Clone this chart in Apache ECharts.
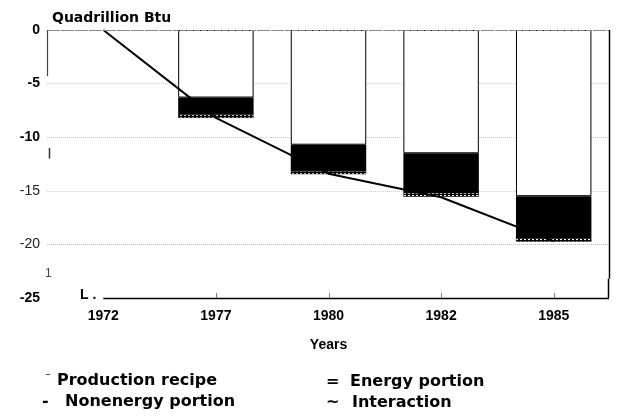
<!DOCTYPE html>
<html><head><meta charset="utf-8">
<script src="https://cdn.jsdelivr.net/npm/echarts@6/dist/echarts.min.js"></script>
<style>html,body{margin:0;padding:0;background:#fff}#c{width:618px;height:419px}</style>
</head><body><div id="c"></div>
<script>
// ---- data ----
const years = ['1972', '1977', '1980', '1982', '1985'];
const productionRecipe = [0, -8.2, -13.4, -15.6, -19.7];
const energyPortion = [0, -6.3, -10.7, -11.5, -15.5];
const nonenergyPortion = [0, -1.6, -2.5, -3.7, -3.9];
const interaction = [0, -0.3, -0.25, -0.35, -0.35];
const yTicks = [0, -5, -10, -15, -20, -25];
const boldTicks = [0, -5, -10, -25];
const yTitle = 'Quadrillion Btu';
const xTitle = 'Years';
const legendMarks = ['\u207B', '=', '-', '~'];
const legendLabels = ['Production recipe', 'Energy portion', 'Nonenergy portion', 'Interaction'];

// hatched pattern for the interaction band
const pc = document.createElement('canvas');
pc.width = 4; pc.height = 2;
const g = pc.getContext('2d');
g.fillStyle = '#000'; g.fillRect(0, 0, 4, 2);
g.fillStyle = '#fff'; g.fillRect(0, 1, 2, 1);

const FONT = 'Liberation Sans, Arial, sans-serif';
const LFONT = 'DejaVu Sans, sans-serif';
const chart = echarts.init(document.getElementById('c'), null, {renderer: 'canvas'});

// zero-height bars get no outline
const barData = arr => arr.map(v => v === 0 ? {value: v, itemStyle: {borderWidth: 0}} : v);

const GL = 47, GR = 8, GT = 30, GB = 121;
chart.setOption({
  animation: false,
  backgroundColor: '#fff',
  title: {
    text: yTitle, left: 47, top: 6,
    textStyle: {fontFamily: LFONT, fontWeight: 'bold', fontSize: 14, color: '#000'}
  },
  grid: {left: GL, right: GR, top: GT, bottom: GB, containLabel: false},
  xAxis: {
    type: 'category', data: years, position: 'bottom',
    axisLine: {show: false, onZero: false},
    axisTick: {show: false},
    axisLabel: {fontFamily: FONT, fontWeight: 'bold', fontSize: 14, color: '#000', margin: 11},
    name: xTitle, nameLocation: 'middle', nameGap: 40,
    nameTextStyle: {fontFamily: FONT, fontWeight: 'bold', fontSize: 14, color: '#000'}
  },
  yAxis: {
    type: 'value', min: yTicks[yTicks.length - 1], max: yTicks[0], interval: 5,
    axisLine: {show: false}, axisTick: {show: false},
    splitLine: {show: true, lineStyle: {type: 'dotted', width: 1,
      color: ['rgba(0,0,0,0)', '#bbb', '#ccc', '#ccc', '#ccc', '#999']}},
    axisLabel: {
      margin: 7,
      formatter: v => boldTicks.indexOf(v) >= 0 ? '{b|' + v + '}' : '{n|' + v + '}',
      rich: {
        b: {fontFamily: FONT, fontWeight: 'bold', fontSize: 14, color: '#000'},
        n: {fontFamily: FONT, fontWeight: 'normal', fontSize: 14, color: '#222'}
      }
    }
  },
  series: [
    {name: legendLabels[1], type: 'bar', stack: 'total', data: barData(energyPortion), barWidth: '67%',
     itemStyle: {color: '#fff', borderColor: '#000', borderWidth: 1}, z: 2},
    {name: legendLabels[2], type: 'bar', stack: 'total', data: barData(nonenergyPortion),
     itemStyle: {color: '#000'}, z: 2},
    {name: legendLabels[3], type: 'bar', stack: 'total', data: barData(interaction),
     itemStyle: {color: {image: pc, repeat: 'repeat'}, borderColor: '#000', borderWidth: 0.5}, z: 2},
    {name: legendLabels[0], type: 'line', data: productionRecipe, symbol: 'none',
     lineStyle: {color: '#000', width: 2}, z: 5}
  ]
});

// axis decorations positioned through the library's scales
const yPix = v => chart.convertToPixel({yAxisIndex: 0}, v);
const xPix = c => chart.convertToPixel({xAxisIndex: 0}, c);
const xRight = 618 - GR;
const line = (x1, y1, x2, y2, w, c, dash) => ({type: 'line', silent: true, z: 10,
  shape: {x1, y1, x2, y2}, style: {stroke: c || '#000', lineWidth: w || 1, lineDash: dash || null}});
const txt = (t, x, y, f) => ({type: 'text', silent: true, z: 10, x, y,
  style: Object.assign({text: t, fill: '#000', fontFamily: LFONT, fontWeight: 'bold', fontSize: 16,
    textVerticalAlign: 'middle', verticalAlign: 'middle'}, f || {})});

const yBase = yPix(-25);
const elements = [
  line(GL, yPix(0) + 0.5, xRight, yPix(0) + 0.5, 1, '#888', [6, 1]),
  line(GL + 0.5, yPix(0), GL + 0.5, yPix(-4.3), 1.2, '#444'),
  line(GL + 2.5, yPix(-11), GL + 2.5, yPix(-12), 1.5, '#333'),
  line(xRight - 0.5, yPix(0), xRight - 0.5, yPix(-23.2), 1.5),
  line(xRight - 1.5, yPix(-23.2), xRight - 1.5, yBase, 1.5),
  line(xPix(years[0]), yBase + 0.5, xRight - 1, yBase + 0.5, 1.5),
  txt('L .', 80, yBase - 3, {fontFamily: FONT, fontSize: 14}),
  txt('1', 45, yPix(-22.7), {fontFamily: FONT, fontWeight: 'normal', fontSize: 12, fill: '#444'}),
  // legend
  txt(legendMarks[0], 45, 377, {fontSize: 11}),
  txt(legendLabels[0], 57, 381),
  txt(legendMarks[1], 326, 382),
  txt(legendLabels[1], 350, 382),
  txt(legendMarks[2], 42, 402),
  txt(legendLabels[2], 65, 402),
  txt(legendMarks[3], 326, 403),
  txt(legendLabels[3], 352, 403)
];
// small inside ticks at the later categories
years.slice(1).forEach(y => {
  const x = Math.round(xPix(y)) + 0.5;
  elements.push(line(x, yBase - 5, x, yBase, 1, '#777'));
});
chart.setOption({graphic: {elements}});
</script>
</body></html>
